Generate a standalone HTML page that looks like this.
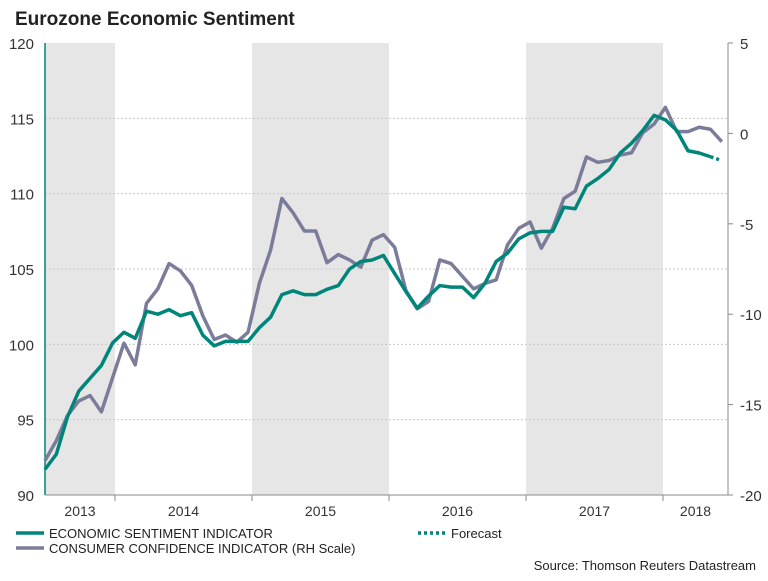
<!DOCTYPE html>
<html><head><meta charset="utf-8"><style>
body{margin:0;background:#fff;width:768px;height:576px;overflow:hidden;font-family:"Liberation Sans",sans-serif}
</style></head><body>
<svg id="c" width="768" height="576" xmlns="http://www.w3.org/2000/svg">
<text x="15" y="25" font-size="19" font-weight="bold" fill="#222">Eurozone Economic Sentiment</text>
</svg>
<script>
const years=[2013,2014,2015,2016,2017,2018];
const shadedYears=[2013,2015,2017];
const leftTicks=[90,95,100,105,110,115,120];
const rightTicks=[-20,-15,-10,-5,0,5];
const esi=[91.7,92.7,95.2,96.9,97.75,98.6,100.1,100.8,100.4,102.2,102.0,102.3,101.9,102.1,100.6,99.9,100.2,100.2,100.2,101.1,101.8,103.3,103.55,103.3,103.3,103.65,103.9,105.0,105.5,105.6,105.9,104.7,103.5,102.4,103.2,103.9,103.8,103.8,103.1,104.05,105.5,106.05,107.0,107.4,107.5,107.5,109.1,109.0,110.5,111.0,111.6,112.7,113.35,114.2,115.2,114.9,114.2,112.85,112.7,112.45];
const esiForecast=[112.45,112.2];
const cci=[-18.1,-17.0,-15.6,-14.8,-14.5,-15.4,-13.5,-11.6,-12.8,-9.4,-8.6,-7.2,-7.6,-8.4,-10.1,-11.4,-11.15,-11.55,-11.0,-8.3,-6.45,-3.6,-4.4,-5.4,-5.4,-7.15,-6.7,-7.0,-7.4,-5.9,-5.6,-6.3,-8.7,-9.7,-9.3,-7.0,-7.2,-7.9,-8.6,-8.3,-8.1,-6.17,-5.25,-4.9,-6.35,-5.25,-3.6,-3.2,-1.3,-1.6,-1.5,-1.2,-1.07,0.04,0.52,1.44,0.1,0.1,0.34,0.23,-0.46];
const NS="http://www.w3.org/2000/svg";
const svg=document.getElementById('c');
const L=45,R=728,T=43,B=495;
const yL=v=>B-(v-90)/30*(B-T);
const yR=v=>B-(v+20)/25*(B-T);
const xM=i=>45+i*11.28;
const xY=y=>115+(y-2014)*137;
function mk(tag,a){const e=document.createElementNS(NS,tag);for(const k in a)e.setAttribute(k,a[k]);svg.appendChild(e);return e;}
shadedYears.forEach(y=>{const x0=Math.max(L,xY(y)),x1=Math.min(R,xY(y+1));
const r=mk('rect',{x:x0,y:T,width:x1-x0,height:B-T,fill:'#e6e6e6'});

});
leftTicks.forEach(v=>{if(v>90&&v<120){const g=mk('line',{x1:L,x2:R,y1:yL(v),y2:yL(v),stroke:'#c8c8c8','stroke-dasharray':'2,2','stroke-width':1});

}
const t=mk('text',{x:34,y:yL(v)+6,'font-size':15,'text-anchor':'end',fill:'#333'});t.textContent=v;

});
rightTicks.forEach(v=>{mk('line',{x1:R,x2:R+5,y1:yR(v),y2:yR(v),stroke:'#888'});
const t=mk('text',{x:740,y:yR(v)+6,'font-size':15,fill:'#333'});t.textContent=v;

});
const ax=mk('line',{x1:L,x2:L,y1:T,y2:B,stroke:'#00857a','stroke-width':1.5});


const ax2=mk('line',{x1:R,x2:R,y1:T,y2:B,stroke:'#888','stroke-width':1});


const ax3=mk('line',{x1:L,x2:R,y1:B,y2:B,stroke:'#888','stroke-width':1});


years.forEach(y=>{if(y>2013)mk('line',{x1:xY(y),x2:xY(y),y1:B,y2:B+6,stroke:'#888'});
const cx=(Math.max(L,xY(y))+Math.min(R,xY(y+1)))/2;
const t=mk('text',{x:cx,y:516,'font-size':14,'text-anchor':'middle',fill:'#333'});t.textContent=y;

});
const p1=mk('polyline',{points:cci.map((v,i)=>xM(i)+','+yR(v)).join(' '),fill:'none',stroke:'#7b7c9a','stroke-width':3.5,'stroke-linejoin':'round'});


const p2=mk('polyline',{points:esi.map((v,i)=>xM(i)+','+yL(v)).join(' '),fill:'none',stroke:'#00857a','stroke-width':3.5,'stroke-linejoin':'round'});


const p3=mk('polyline',{points:esiForecast.map((v,i)=>xM(esi.length-1+i)+','+yL(v)).join(' '),fill:'none',stroke:'#00857a','stroke-width':3.5,'stroke-dasharray':'3,3'});


function leg(x,y,col,dash,label,name){const l=mk('line',{x1:x,x2:x+28,y1:y,y2:y,stroke:col,'stroke-width':3.5});if(dash)l.setAttribute('stroke-dasharray','3,3');
const t=mk('text',{x:x+33,y:y+5,'font-size':13,fill:'#222'});t.textContent=label;

}
leg(16,533,'#00857a',false,'ECONOMIC SENTIMENT INDICATOR','legend-entry-esi');
leg(16,548,'#7b7c9a',false,'CONSUMER CONFIDENCE INDICATOR (RH Scale)','legend-entry-cci');
leg(418,533,'#00857a',true,'Forecast','legend-entry-forecast');
const s=mk('text',{x:756,y:570,'font-size':13,'text-anchor':'end',fill:'#222'});s.textContent='Source: Thomson Reuters Datastream';


</script>
</body></html>
